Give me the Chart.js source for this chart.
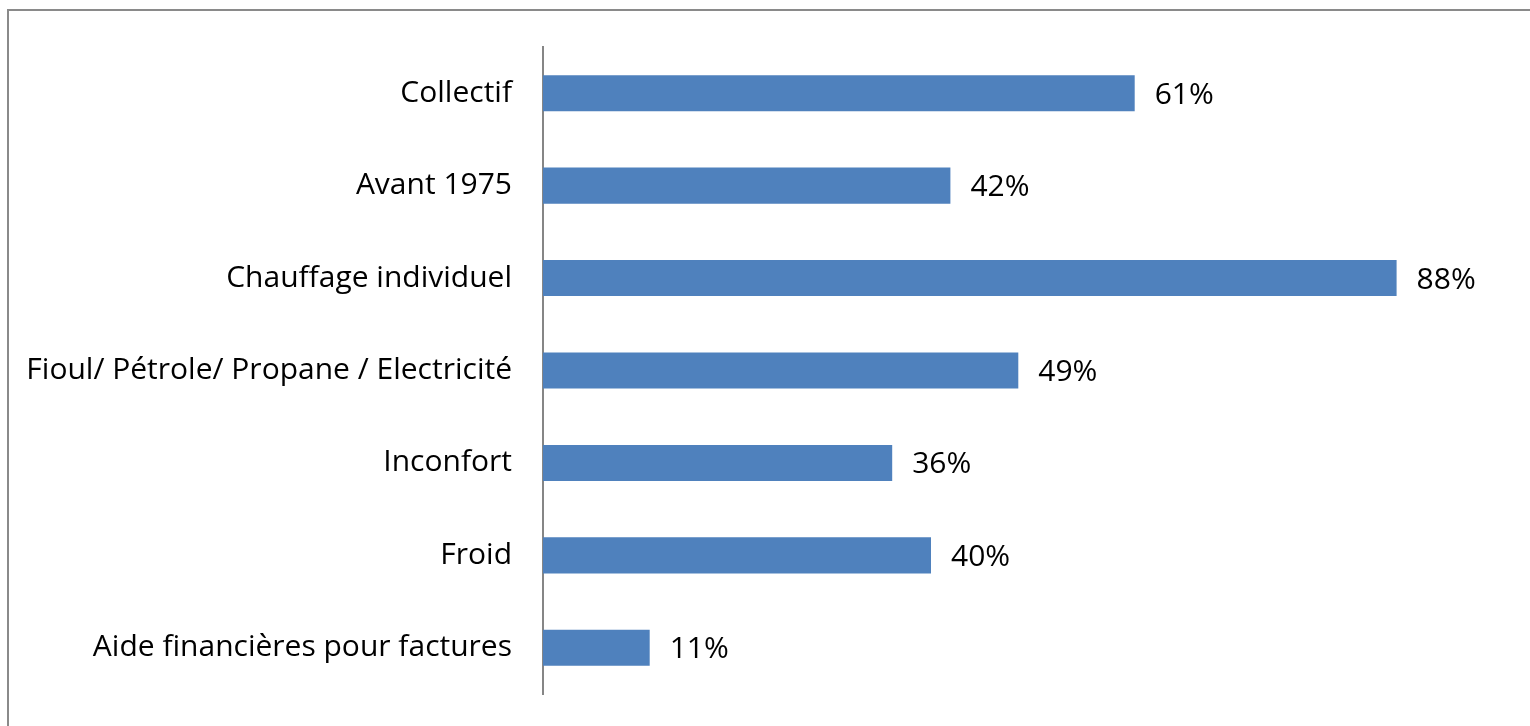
<!DOCTYPE html>
<html>
<head>
<meta charset="utf-8">
<script src="https://cdn.jsdelivr.net/npm/chart.js@4/dist/chart.umd.min.js"></script>
<style>
  html, body { margin: 0; padding: 0; background: #fff; overflow: hidden; }
  #frame { position: absolute; left: 7px; top: 9px; width: 1600px; height: 800px; border-left: 2px solid #8a8a8a; border-top: 2px solid #8a8a8a; }
  #wrap { position: absolute; left: 0; top: 0; width: 1530px; height: 726px; }
</style>
</head>
<body>
<div id="frame"></div>
<div id="wrap"><canvas id="c" width="1530" height="726"></canvas></div>
<script>
const categories = [
  "Collectif",
  "Avant 1975",
  "Chauffage individuel",
  "Fioul/ Pétrole/ Propane / Electricité",
  "Inconfort",
  "Froid",
  "Aide financières pour factures"
];
const values = [61, 42, 88, 49, 36, 40, 11];
const FONT = "'Open Sans', sans-serif";
const FONT_SIZE = 30;

const valueLabels = {
  id: 'valueLabels',
  afterDatasetsDraw(chart) {
    const ctx = chart.ctx;
    const meta = chart.getDatasetMeta(0);
    ctx.save();
    ctx.font = FONT_SIZE + "px " + FONT;
    ctx.fillStyle = '#000';
    ctx.textAlign = 'left';
    ctx.textBaseline = 'middle';
    meta.data.forEach((bar, i) => {
      ctx.fillText(values[i] + '%', bar.x + 20, bar.y + 2);
    });
    ctx.restore();
  }
};

new Chart(document.getElementById('c'), {
  type: 'bar',
  data: {
    labels: categories,
    datasets: [{
      data: values,
      backgroundColor: '#4F81BD',
      borderWidth: 0,
      barPercentage: 0.39,
      categoryPercentage: 1.0
    }]
  },
  options: {
    indexAxis: 'y',
    responsive: false,
    animation: false,
    devicePixelRatio: 1,
    layout: { padding: { left: 0, right: 17, top: 47, bottom: 32 } },
    plugins: { legend: { display: false }, tooltip: { enabled: false } },
    scales: {
      x: { display: false, min: 0, max: 100 },
      y: {
        afterFit(scale) { scale.width = 543; scale.paddingTop = 0; scale.paddingBottom = 0; },
        grid: { display: false, drawTicks: false },
        border: { display: true, color: '#868686', width: 2 },
        ticks: { color: '#000', padding: 31, font: { family: FONT, size: FONT_SIZE } }
      }
    }
  },
  plugins: [valueLabels]
});
</script>
</body>
</html>
